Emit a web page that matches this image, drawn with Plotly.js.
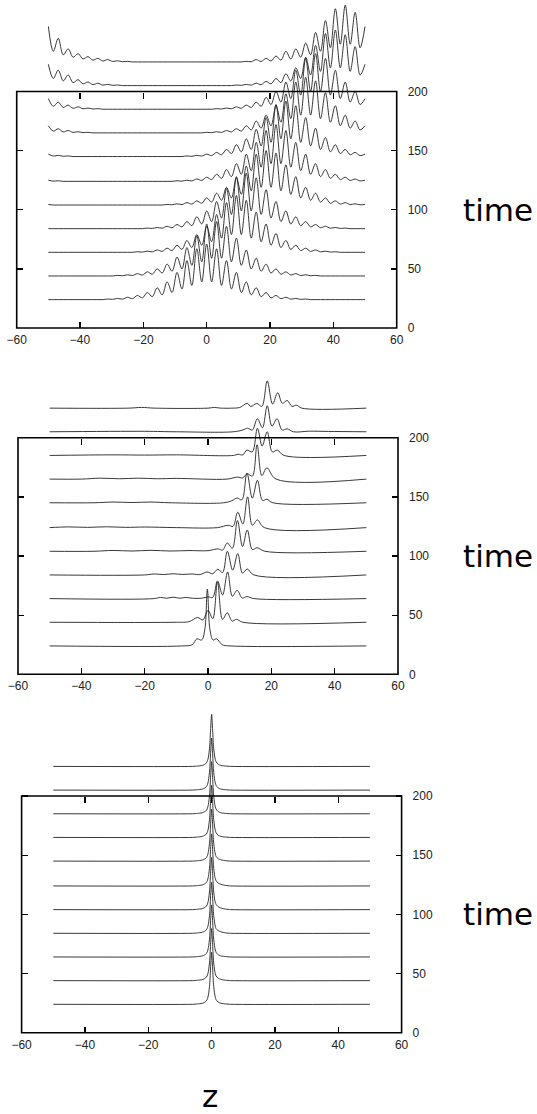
<!DOCTYPE html>
<html><head><meta charset="utf-8">
<script src="https://cdn.plot.ly/plotly-3.0.1.min.js"></script>
<style>html,body{margin:0;padding:0;background:#fff}#chart{width:537px;height:1114px}</style>
</head><body><div id="chart"></div>
<script>
const W = 537, H = 1114;
// vertical offsets (time) of each profile
const offsets = [24, 44, 64, 84, 104, 124, 145, 165, 185, 205, 225];
const xTicks = [-60, -40, -20, 0, 20, 40, 60];
const yTicks = [0, 50, 100, 150, 200];
const xTopTicks = [-40, -20, 0, 20, 40];

// ---------- panel 1: dispersive oscillating packet (peaks/troughs) ----------
const z1 = [-50,-48.44,-46.88,-45.31,-43.75,-42.19,-40.63,-39.06,-37.5,-35.94,-34.38,-32.81,-31.25,-29.69,-28.13,-26.56,-25,-23.44,-21.88,-20.31,-18.75,-17.19,-15.63,-14.06,-12.5,-10.94,-9.38,-7.81,-6.25,-4.69,-3.13,-1.56,0,1.56,3.13,4.69,6.25,7.81,9.38,10.94,12.5,14.06,15.63,17.19,18.75,20.31,21.88,23.44,25,26.56,28.13,29.69,31.25,32.81,34.38,35.94,37.5,39.06,40.63,42.19,43.75,45.31,46.88,48.44,50];
const p1k0 = [0,0,0,0,0, 0,0,0,0,0, 0,0,
  0.5,0.2,1,0.4,2,0.8,3.5,1.5,6,2.5, 10,4,15,6,23,9,33,12,43,15, 47,15,43,12,33,9,23,6,15,4, 10,2.5,6,1.5,3.5,0.8,2,0.4,1,0.2, 0.5,
  0,0,0,0,0, 0,0,0,0,0, 0,0];
const p1k1 = [0,0,0,0,0, 0,0,0,0,0, 0,0,0,0,
  0.5,0.2,1,0.4,2,0.8,3.5,1.5,6,2.5, 10,4,16,6,24,9,34,12,44,15, 46,15,42,12,32,9,22,6,15,4, 10,2.5,6,1.5,3.5,0.8,2,0.4,1,0.2, 0.5,
  0,0,0,0,0, 0,0,0,0,0];
const p1k2 = [0,0,0,0,0, 0,0,0,0,0, 0,0,0,0,0, 0,0,0,
  0.5,0.2,1,0.4,2,0.8,3.5,1.5,6,2.5, 10,4,15,6,22,9,32,12,42,15, 48,15,44,12,34,9,24,6,16,4, 10,2.5,6,1.5,3.5,0.8,2,0.4,1,0.2, 0.5,
  0,0,0,0,0, 0];
const p1k3 = [0,0,0,0,0, 0,0,0,0,0, 0,0,0,0,0, 0,0,0,0,0,
  0.5,0.2,1,0.4,2,0.8,3.5,1.5,6,2.5, 10,4,15,6,23,9,34,12,44,15, 47,15,43,12,33,9,23,6,15,4, 10,2.5,6,1.5,3.5,0.8,2,0.4,1,0.2, 0.5,
  0,0,0,0];
const p1k4 = [0.5,
  0,0,0,0,0, 0,0,0,0,0, 0,0,0,0,0, 0,0,0,0,0, 0,0,0,
  0.5,0.2,1,0.4,2,0.8,3.5,1.5,6,2.5, 10,4,15,6,23,9,33,12,43,15, 46,15,44,12,34,9,24,6,15,4, 10,2.5,6,1.5,3.5,0.8,2,0.4,1,0.2, 0.5];
const p1k5 = [1,0.2,0.5,
  0,0,0,0,0, 0,0,0,0,0, 0,0,0,0,0, 0,0,0,0,0, 0,0,0,
  0.5,0.2,1,0.4,2,0.8,3.5,1.5,6,2.5, 10,4,15,6,23,9,33,12,43,15, 48,15,43,12,33,9,23,6,15,4, 10,2.5,6,1.5,3.5,0.8,2,0.4,1];
const p1k6 = [2,0.4,1,0.2,0.5,
  0,0,0,0,0, 0,0,0,0,0, 0,0,0,0,0, 0,0,0,0,0, 0,0,0,
  0.5,0.2,1,0.4,2,0.8,3.5,1.5,6,2.5, 10,4,15,6,23,9,33,12,44,15, 47,15,43,12,33,9,24,6,16,4, 10,2.5,6,1.5,3.5,0.8,2];
const p1k7 = [6,1.5,3.5,0.8,2,0.4,1,0.2,0.5,
  0,0,0,0,0, 0,0,0,0,0, 0,0,0,0,0, 0,0,0,0,0, 0,0,0,
  0.5,0.2,1,0.4,2,0.8,3.5,1.5,6,2.5, 10,4,15,6,23,9,33,12,43,15, 47,15,44,12,34,9,23,6,15,4, 10,2.5,6];
const p1k8 = [9,2.5,6,1.5,3.5,0.8,2,0.4,1,0.2,0.5,
  0,0,0,0,0, 0,0,0,0,0, 0,0,0,0,0, 0,0,0,0,0, 0,0,0,
  0.5,0.2,1,0.4,2,0.8,3.5,1.5,6,2.5, 10,4,15,6,23,9,33,12,43,15, 47,15,43,12,33,9,23,6,15,4, 9];
const p1k9 = [18,6,13,4,9,2.5,5,1.5,3,0.8,2,0.4,1,0.2,0.5,
  0,0,0,0,0, 0,0,0,0,0, 0,0,0,0,0, 0,0,0,0,0, 0,0,0,
  0.5,0.2,1,0.4,2,0.8,3.5,1.5,6,2.5, 10,4,15,6,24,9,34,12,44,15, 47,15,43,12,33,9,18];
const p1k10 = [30,9,20,6,11,4,7,2.5,4.5,1.5,3,0.8,2,0.4,1,0.2,0.5,
  0,0,0,0,0, 0,0,0,0,0, 0,0,0,0,0, 0,0,0,0,0, 0,0,0,
  0.5,0.2,2,0.4,3,0.8,5,1.5,9,2.5, 11,4,16,6,25,9,35,12,45,15, 48,15,42,12,30];
const panel1 = [p1k0,p1k1,p1k2,p1k3,p1k4,p1k5,p1k6,p1k7,p1k8,p1k9,p1k10];

// ---------- panel 2: breathing two-peak structure ----------
const p2x0 = [-50,-8,-5,-3.5,-2,-1,-0.2,0.6,1.6,2.7,4.5,7,50];
const p2h0 = [0,0,1,6,5,14,48,14,5,6,1,0,0];
const p2x1 = [-50,-10,-6,-3.3,-1.6,0,1.5,3,4.6,6.1,7.6,9,11,50];
const p2h1 = [0,0,0.5,4,2,10,3,34,2.5,8,1,2.5,0,0];
const p2x2 = [-50,-17,-15,-13,-11,-9,-7,-5,-2,0,1.5,3,4.6,6.2,7.7,9.2,10.8,12.3,14.5,50];
const p2h2 = [0,0,1,0.3,1.2,0.3,1,0.3,0.3,1.5,1,15,3,22.5,2,7,0.5,1.7,0,0];
const p2x3 = [-50,-20,-17,-14,-11,-8,-5,-2.5,-0.3,1.5,3.1,4.6,6.1,7.8,9.4,10.9,12.4,14.5,50];
const p2h3 = [0,0,0.8,0.3,1,0.4,0.8,0.3,2.5,1,4.8,2,20,4,18,1.5,5,0,0];
const p2x4 = [-50,-36,-30,-24,-18,-12,-6,0,3.2,4.6,6.1,7.7,9.3,10.9,12.4,14,15.5,18,50];
const p2h4 = [0,0,0.7,0.2,0.8,0.2,0.6,0.5,2,1,7,2.5,26,4,18,1.5,3,0,0];
const p2x5 = [-50,-44,-38,-32,-26,-20,-10,3,6.4,7.9,9.4,11,12.5,14,15.6,17.8,50];
const p2h5 = [0,0.6,0.2,0.7,0.2,0.5,0,0,2,1,13,3,26,2,6.5,0,0];
const p2x6 = [-50,-36,-30,-24,-18,-12,5,7.5,9.2,10.7,12.3,14,15.6,17.2,18.6,20.5,50];
const p2h6 = [0,0,0.6,0.2,0.6,0,0,1.7,4,2.5,25,4,19,2,3,0,0];
const p2x7 = [-50,-40,-34,-28,-22,-16,-10,6,9.3,10.9,12.4,14,15.5,17,18.6,21.5,50];
const p2h7 = [0,0,0.8,0.3,0.8,0.3,0.6,0,1.7,1,4.5,2.5,29,3,9.5,0,0];
const p2x8 = [-50,-30,-20,-10,8,9.5,11,12.3,14,15.6,17.1,18.7,20.3,21.9,24,50];
const p2h8 = [0,0.5,0.3,0.5,0,1,0.5,4.5,3,23,8,20,3,4.5,0,0];
const p2x9 = [-50,-20,-10,8,11,12.5,14,15.6,17.2,18.7,20.2,21.8,23.4,25,27,32,38,50];
const p2h9 = [0,0.4,0,0,1.5,3,1.5,11,3.4,22,4.8,11,1.5,2.5,0,0.5,0.3,0];
const p2x10 = [-50,-25,-21,-17,0,2,4,8,10,12.4,13.5,15.4,17,18.7,20.4,22,23.5,25,26.5,28,29.6,50];
const p2h10 = [0,0,0.6,0,0,0.6,0,0,0.5,4,1.4,4,1.5,23,3.4,13,4,6.5,1.5,2.5,0,0];
const panel2X = [p2x0,p2x1,p2x2,p2x3,p2x4,p2x5,p2x6,p2x7,p2x8,p2x9,p2x10];
const panel2H = [p2h0,p2h1,p2h2,p2h3,p2h4,p2h5,p2h6,p2h7,p2h8,p2h9,p2h10];

// ---------- panel 3: stationary narrow soliton ----------
const p3x = [-50,-6,-4.5,-3,-2,-1.4,-1,-0.6,-0.3,0,0.3,0.6,1,1.4,2,3,4.5,6,50];
const p3h0 = [0,0,0.3,0.8,2,4,8,17,32,44,32,17,8,4,2,0.8,0.3,0,0];
const p3h1 = [0,0,0.3,0.8,2,4,8,17,32,44,32,17,8,4,2.2,1,0.3,0,0];
const p3h2 = [0,0,0.3,0.8,2,4,8,17,32,44,32,17,8,4,2,0.8,0.3,0,0];
const p3h3 = [0,0,0.3,0.8,2,4,8,17,32,43,32,17,8,4,2.4,1.2,0.3,0,0];
const p3h4 = [0,0,0.3,0.8,2,4,8,17,32,44,32,17,8,4.5,2.6,1.3,0.4,0,0];
const p3h5 = [0,0,0.3,0.8,2,4,8,17,32,44,32,17,8,4.5,2.6,1.3,0.4,0,0];
const p3h6 = [0,0,0.3,0.8,2,4,8,17,32,44,32,17,8,4,2.2,1,0.3,0,0];
const p3h7 = [0,0,0.3,0.8,2,4,8,17,32,44,32,17,8,4,2,0.8,0.3,0,0];
const p3h8 = [0,0,0.3,0.8,2,4,8,17,32,44,32,17,8,4,2,0.8,0.3,0,0];
const p3h9 = [0,0,0.3,0.8,2,4,8,17,32,44,32,17,8,4,2,0.8,0.3,0,0];
const p3h10 = [0,0,0.3,0.8,2,4,8,17,32,44,32,17,8,4,2,0.8,0.3,0,0];
const panel3H = [p3h0,p3h1,p3h2,p3h3,p3h4,p3h5,p3h6,p3h7,p3h8,p3h9,p3h10];

// ---------- geometry (pixels) ----------
const geo = [
  {left:16.7, right:396.7, plotTop:2,   boxTop:91.5,  boxBottom:328},
  {left:18,   right:398,   plotTop:368, boxTop:437.7, boxBottom:674.3},
  {left:21.6, right:401.6, plotTop:704, boxTop:796,   boxBottom:1032.7}
];

const lineStyle = {color:'#222', width:0.9, shape:'spline', smoothing:1};
const tickFont = {family:'Liberation Sans, Arial, sans-serif', size:12, color:'#222'};
const traces = [];
const layout = {
  width:W, height:H, margin:{l:0,r:0,t:0,b:0},
  paper_bgcolor:'#fff', plot_bgcolor:'rgba(0,0,0,0)', showlegend:false,
  shapes:[], annotations:[]
};

function addTrace(p, x, y, line){
  traces.push({type:'scatter', mode:'lines', x:x, y:y, line:line,
    xaxis: p===0?'x':'x'+(p+1), yaxis: p===0?'y':'y'+(p+1), hoverinfo:'skip'});
}

offsets.forEach((o,k)=>{
  addTrace(0, z1, panel1[k].map(v=>o+v), lineStyle);
  addTrace(1, panel2X[k], panel2H[k].map(v=>o+v), lineStyle);
  addTrace(2, p3x, panel3H[k].map(v=>o+v), Object.assign({}, lineStyle, {smoothing:0.6}));
});

geo.forEach((g,p)=>{
  const s = (g.boxBottom - g.boxTop)/200;
  const yTop = (g.boxBottom - g.plotTop)/s;
  const xs = p===0?'':String(p+1);
  const xTopName = 'x'+(p+4);
  layout['xaxis'+xs] = {domain:[g.left/W, g.right/W], range:[-60,60], anchor:'y'+xs,
    tickvals:xTicks, ticks:'inside', ticklen:6, tickwidth:1.3, tickcolor:'#000',
    showline:false, showgrid:false, zeroline:false, tickfont:tickFont, ticklabelstandoff:3, fixedrange:true};
  layout['yaxis'+xs] = {domain:[1-g.boxBottom/H, 1-g.plotTop/H], range:[0,yTop], anchor:'x'+xs,
    side:'right', mirror:'ticks', tickvals:yTicks, ticks:'inside', ticklen:6, tickwidth:1.3, tickcolor:'#000',
    showline:false, showgrid:false, zeroline:false, tickfont:tickFont, ticklabelstandoff:10, fixedrange:true};
  layout['xaxis'+(p+4)] = {overlaying:'x'+xs, anchor:'free', position:1-g.boxTop/H, side:'top',
    range:[-60,60], tickvals:xTopTicks, ticks:'inside', ticklen:6, tickwidth:1.3, tickcolor:'#000',
    showticklabels:false, showline:false, showgrid:false, zeroline:false, fixedrange:true};
  traces.push({type:'scatter', mode:'lines', x:[], y:[], xaxis:xTopName, yaxis:'y'+xs, hoverinfo:'skip'});
  layout.shapes.push({type:'rect', xref:'x'+xs+' domain', yref:'y'+xs+' domain',
    x0:0, x1:1, y0:0, y1:200/yTop, line:{color:'#000', width:1.6}, layer:'above'});
  layout.annotations.push({xref:'paper', yref:'paper', x:461/W, y:1-((g.boxTop+g.boxBottom)/2)/H,
    xanchor:'left', yanchor:'middle', text:'time', showarrow:false,
    font:{family:'DejaVu Sans, sans-serif', size:31, color:'#000'}});
});
layout.annotations.push({xref:'paper', yref:'paper', x:210/W, y:1-1096/H,
  xanchor:'center', yanchor:'middle', text:'z', showarrow:false,
  font:{family:'DejaVu Sans, sans-serif', size:31, color:'#000'}});

Plotly.newPlot('chart', traces, layout, {staticPlot:true, displayModeBar:false});
</script>
</body></html>
